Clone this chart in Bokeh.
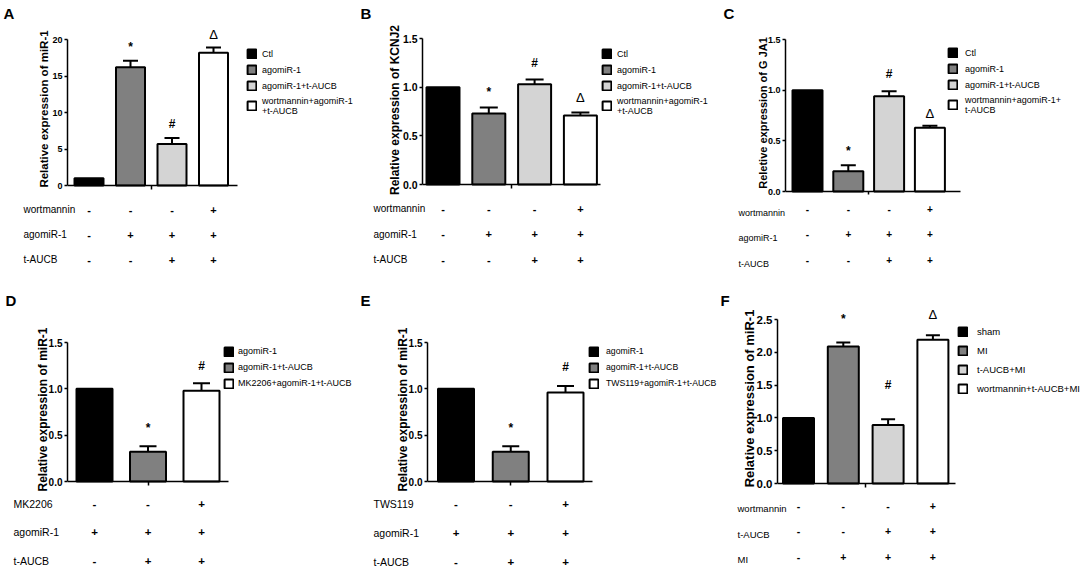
from bokeh.plotting import figure
from bokeh.models import (Range1d, FixedTicker, Legend, LegendItem, Whisker, TeeHead,
                          ColumnDataSource, NumeralTickFormatter, CustomJSTickFormatter)
from bokeh.layouts import row, column
from bokeh.embed import file_html
from bokeh.resources import INLINE
from bokeh.core.properties import value

# ---------------- data ----------------
A_groups = ["Ctl", "agomiR-1", "agomiR-1+t-AUCB", "wortmannin+agomiR-1\n+t-AUCB"]
A_values = [1.0, 16.2, 5.7, 18.2]
A_errors = [0.0, 0.9, 0.8, 0.7]
A_marks = ["", "*", "#", "Δ"]
A_rows = ["wortmannin", "agomiR-1", "t-AUCB"]
A_table = [["-", "-", "-", "+"], ["-", "+", "+", "+"], ["-", "-", "+", "+"]]
A_ticks = [0, 5, 10, 15, 20]
A_ylabel = "Relative expression of miR-1"

B_groups = ["Ctl", "agomiR-1", "agomiR-1+t-AUCB", "wortmannin+agomiR-1\n+t-AUCB"]
B_values = [1.0, 0.73, 1.03, 0.71]
B_errors = [0.0, 0.06, 0.05, 0.03]
B_marks = ["", "*", "#", "Δ"]
B_rows = ["wortmannin", "agomiR-1", "t-AUCB"]
B_table = [["-", "-", "-", "+"], ["-", "+", "+", "+"], ["-", "-", "+", "+"]]
B_ticks = [0, 0.5, 1.0, 1.5]
B_ylabel = "Relative expression of KCNJ2"

C_groups = ["Ctl", "agomiR-1", "agomiR-1+t-AUCB", "wortmannin+agomiR-1+\nt-AUCB"]
C_values = [1.0, 0.20, 0.94, 0.63]
C_errors = [0.0, 0.06, 0.05, 0.02]
C_marks = ["", "*", "#", "Δ"]
C_rows = ["wortmannin", "agomiR-1", "t-AUCB"]
C_table = [["-", "-", "-", "+"], ["-", "+", "+", "+"], ["-", "-", "+", "+"]]
C_ticks = [0, 0.5, 1.0, 1.5]
C_ylabel = "Reletive expression of G JA1"

D_groups = ["agomiR-1", "agomiR-1+t-AUCB", "MK2206+agomiR-1+t-AUCB"]
D_values = [1.0, 0.32, 0.98]
D_errors = [0.0, 0.06, 0.08]
D_marks = ["", "*", "#"]
D_rows = ["MK2206", "agomiR-1", "t-AUCB"]
D_table = [["-", "-", "+"], ["+", "+", "+"], ["-", "+", "+"]]
D_ticks = [0, 0.5, 1.0, 1.5]
D_ylabel = "Relative expression of miR-1"

E_groups = ["agomiR-1", "agomiR-1+t-AUCB", "TWS119+agomiR-1+t-AUCB"]
E_values = [1.0, 0.32, 0.96]
E_errors = [0.0, 0.06, 0.07]
E_marks = ["", "*", "#"]
E_rows = ["TWS119", "agomiR-1", "t-AUCB"]
E_table = [["-", "-", "+"], ["+", "+", "+"], ["-", "+", "+"]]
E_ticks = [0, 0.5, 1.0, 1.5]
E_ylabel = "Relative expression of miR-1"

F_groups = ["sham", "MI", "t-AUCB+MI", "wortmannin+t-AUCB+MI"]
F_values = [1.0, 2.09, 0.89, 2.19]
F_errors = [0.0, 0.06, 0.09, 0.07]
F_marks = ["", "*", "#", "Δ"]
F_rows = ["wortmannin", "t-AUCB", "MI"]
F_table = [["-", "-", "-", "+"], ["-", "-", "+", "+"], ["-", "+", "+", "+"]]
F_ticks = [0, 0.5, 1.0, 1.5, 2.0, 2.5]
F_ylabel = "Relative expression of miR-1"

# ---------------- styles / layout ----------------
COL4 = ["#000000", "#808080", "#d4d4d4", "#ffffff"]
COL3 = ["#000000", "#808080", "#ffffff"]
SANS = "Liberation Sans"

BASE_LEG = dict(leg_font=9, leg_lh=12, leg_spacing=4, leg_lineh=1.6)

GA = dict(BASE_LEG, ax=(67, 237, 39, 185), c0=88.5, pitch=41.5, bw=29, cap=15,
          hdr=20, mt=12, mb=5, pad_b=8, leg=(246, 43), leg_standoff=5,
          letter=(3, 4), r0=11, rp=25, lab_x=23, lab_dy=0, tab_font=10,
          ylab_font=11.5, ylab_standoff=-1, tick_font=9, fmt="0", moff=[0, 14, 14, 13])
GB = dict(BASE_LEG, ax=(62, 240, 38, 184), c0=82.5, pitch=45.8, bw=33, cap=18,
          hdr=20, mt=8, mb=5, pad_b=8, leg=(241, 43), leg_standoff=5,
          letter=(0, 4), r0=11, rp=25.5, lab_x=13, lab_dy=0, tab_font=10,
          ylab_font=12, ylab_standoff=-2, tick_font=10.5, fmt="0.0", moff=[0, 16, 16, 15])
GC = dict(BASE_LEG, ax=(65, 240, 39, 191), c0=87, pitch=40.8, bw=30, cap=15,
          hdr=20, mt=8, mb=3, pad_b=8, leg=(227, 42), leg_standoff=7,
          letter=(3, 4), r0=6, rp=25.5, lab_x=18, lab_dy=4, tab_font=9,
          ylab_font=11, ylab_standoff=-4, tick_font=9, fmt="0.0", moff=[0, 14, 17, 12])
GD = dict(BASE_LEG, ax=(67, 228, 52, 191), c0=94, pitch=53.5, bw=36, cap=17,
          hdr=18, mt=10, mb=5, pad_b=8, leg=(223, 55), leg_standoff=4,
          letter=(5, 1), r0=9, rp=28.5, lab_x=13, lab_dy=0, tab_font=10.5,
          ylab_font=12, ylab_standoff=-4, tick_font=10, fmt="0.0", moff=[0, 18, 17])
GE = dict(BASE_LEG, ax=(67, 232, 52, 191), c0=95.5, pitch=54.75, bw=36, cap=17,
          hdr=18, mt=10, mb=5, pad_b=8, leg=(228, 55), leg_standoff=7,
          letter=(0, 1), r0=9, rp=29, lab_x=13, lab_dy=0, tab_font=10.5,
          ylab_font=12, ylab_standoff=-4, tick_font=10, fmt="0.0", moff=[0, 18, 19])
GE["leg_font"] = 8.7
GF = dict(ax=(57, 235, 29, 193), c0=78, pitch=44.8, bw=31, cap=14,
          hdr=18, mt=11, mb=5, pad_b=8, leg=(237, 35), leg_standoff=9,
          leg_font=9.5, leg_lh=13, leg_spacing=6, leg_lineh=1.5,
          letter=(0, 1), r0=9, rp=25.5, lab_x=17, lab_dy=3, tab_font=9.5,
          ylab_font=13, ylab_standoff=-3, tick_font=11.5, fmt="0.0", moff=[0, 23, 34, 21])


def est_legend_h(groups, g):
    h = 0.0
    f = g["leg_font"]
    for name in groups:
        lines = name.count("\n") + 1
        h += max(g["leg_lh"], f * 1.15 + (lines - 1) * f * g["leg_lineh"])
    return h + g["leg_spacing"] * (len(groups) - 1)


def make_panel(letter, box_w, box_h, g, groups, vals, errs, marks, rows, table,
               ticks, ylabel, colors):
    n = len(groups)
    ax_l, ax_r, ax_t, ax_b = g["ax"]
    pitch = g["pitch"]
    hdr, mt, mb, pad_b = g["hdr"], g["mt"], g["mb"], g["pad_b"]

    # ---- header with panel letter ----
    h = figure(width=box_w, height=hdr, x_range=Range1d(0, box_w), y_range=Range1d(hdr, 0),
               output_backend="svg", toolbar_location=None, min_border=0,
               x_axis_location=None, y_axis_location=None, frame_align=False)
    h.grid.visible = False
    h.outline_line_color = None
    h.text(x=[g["letter"][0]], y=[g["letter"][1]], text=[letter], text_align="left",
           text_baseline="top", text_font=value(SANS), text_font_size="15px",
           text_font_style="bold", text_color="black")

    # ---- chart ----
    ft = ax_t - mt
    fb = ax_b + mb
    chart_h = fb + pad_b - hdr
    frame_w = box_w - ax_l
    x0 = -(g["c0"] - ax_l) / pitch
    x1 = x0 + frame_w / pitch
    ytop = ticks[-1]
    s = ytop / (ax_b - ax_t)
    p = figure(width=box_w, height=chart_h, x_range=Range1d(x0, x1),
               y_range=Range1d(-mb * s, ytop + mt * s), output_backend="svg",
               toolbar_location=None, min_border_left=ax_l, min_border_right=0,
               min_border_top=ft - hdr, min_border_bottom=pad_b, frame_align=False)
    p.xgrid.visible = False
    p.ygrid.visible = False
    p.outline_line_color = None

    xa = p.xaxis[0]
    xa.fixed_location = 0
    xa.ticker = FixedTicker(ticks=[(n - 1) / 2])
    xa.bounds = (x0, (ax_r - g["c0"]) / pitch)
    xa.formatter = CustomJSTickFormatter(code="return ''")
    xa.major_label_text_font_size = "2px"
    xa.major_label_standoff = 0
    xa.major_tick_out = 4
    xa.major_tick_in = 0
    xa.minor_tick_line_color = None
    xa.axis_line_width = 1.5
    xa.major_tick_line_width = 1.5
    xa.axis_line_color = "black"

    ya = p.yaxis[0]
    ya.ticker = FixedTicker(ticks=ticks)
    ya.bounds = (0, ytop)
    ya.formatter = NumeralTickFormatter(format=g["fmt"])
    ya.major_tick_out = 3
    ya.major_tick_in = 0
    ya.minor_tick_line_color = None
    ya.axis_line_width = 1.5
    ya.major_tick_line_width = 1.5
    ya.axis_line_color = "black"
    ya.major_label_standoff = 2
    ya.major_label_text_font = SANS
    ya.major_label_text_font_style = "bold"
    ya.major_label_text_font_size = f"{g['tick_font']}px"
    ya.major_label_text_color = "black"
    ya.axis_label = ylabel
    ya.axis_label_text_font = SANS
    ya.axis_label_text_font_style = "bold"
    ya.axis_label_text_font_size = f"{g['ylab_font']}px"
    ya.axis_label_text_color = "black"
    ya.axis_label_standoff = g["ylab_standoff"]

    ups = [v + e for v, e in zip(vals, errs)]
    src = ColumnDataSource(dict(x=list(range(n)), top=vals, up=ups, color=colors,
                                mark=marks, moff=[-m for m in g["moff"]],
                                mstyle=["normal" if m == "Δ" else "bold" for m in marks],
                                msize=["13px" if m == "Δ" else "12px" for m in marks]))
    bars = p.vbar(x="x", top="top", bottom=0, width=g["bw"] / pitch, source=src,
                  fill_color="color", line_color="black", line_width=2)

    keep = [i for i in range(n) if errs[i] > 0]
    esrc = ColumnDataSource(dict(x=keep, lo=[vals[i] for i in keep],
                                 hi=[ups[i] for i in keep]))
    p.add_layout(Whisker(source=esrc, base="x", lower="lo", upper="hi", dimension="height",
                         line_width=2, line_color="black", lower_head=None,
                         upper_head=TeeHead(size=g["cap"], line_width=2,
                                            line_color="black")))

    p.text(x="x", y="up", text="mark", y_offset="moff", source=src,
           text_align="center", text_baseline="middle", text_font=value(SANS),
           text_font_size="msize", text_font_style="mstyle", text_color="black")

    items = [LegendItem(label=groups[i], renderers=[bars], index=i) for i in range(n)]
    lh = est_legend_h(groups, g)
    lx, ltop = g["leg"]
    leg = Legend(items=items, location=(lx - ax_l, fb - ltop - lh),
                 glyph_width=11, glyph_height=11, label_height=g["leg_lh"],
                 label_standoff=g["leg_standoff"], spacing=g["leg_spacing"],
                 padding=0, margin=0, border_line_color=None,
                 background_fill_alpha=0, label_text_font=SANS,
                 label_text_font_size=f"{g['leg_font']}px",
                 label_text_line_height=g["leg_lineh"], label_text_color="black")
    p.add_layout(leg)

    # ---- condition table ----
    t_h = box_h - hdr - chart_h
    r0, rp = g["r0"], g["rp"]
    xt0 = x0 - ax_l / pitch
    q = figure(width=box_w, height=t_h, x_range=Range1d(xt0, x1),
               y_range=Range1d((t_h - r0) / rp, -r0 / rp), output_backend="svg",
               toolbar_location=None, min_border=0, x_axis_location=None,
               y_axis_location=None, frame_align=False)
    q.grid.visible = False
    q.outline_line_color = None
    tx, ty, tt = [], [], []
    for ri, rvals in enumerate(table):
        for ci, sgn in enumerate(rvals):
            tx.append(ci)
            ty.append(ri)
            tt.append(sgn)
    q.text(x=tx, y=ty, text=tt, text_align="center", text_baseline="middle",
           text_font=value(SANS), text_font_size=f"{g['tab_font'] + 1}px",
           text_font_style="bold", text_color="black")
    lab_x = xt0 + g["lab_x"] / pitch
    q.text(x=[lab_x] * len(rows), y=[i + g["lab_dy"] / rp for i in range(len(rows))],
           text=rows, text_align="left", text_baseline="middle",
           text_font=value(SANS), text_font_size=f"{g['tab_font']}px",
           text_color="black")
    return column(h, p, q, spacing=0)


pA = make_panel("A", 360, 290, GA, A_groups, A_values, A_errors, A_marks, A_rows, A_table,
                A_ticks, A_ylabel, COL4)
pB = make_panel("B", 360, 290, GB, B_groups, B_values, B_errors, B_marks, B_rows, B_table,
                B_ticks, B_ylabel, COL4)
pC = make_panel("C", 364, 290, GC, C_groups, C_values, C_errors, C_marks, C_rows, C_table,
                C_ticks, C_ylabel, COL4)
pD = make_panel("D", 360, 279, GD, D_groups, D_values, D_errors, D_marks, D_rows, D_table,
                D_ticks, D_ylabel, COL3)
pE = make_panel("E", 360, 279, GE, E_groups, E_values, E_errors, E_marks, E_rows, E_table,
                E_ticks, E_ylabel, COL3)
pF = make_panel("F", 364, 279, GF, F_groups, F_values, F_errors, F_marks, F_rows, F_table,
                F_ticks, F_ylabel, COL4)

page = column(row(pA, pB, pC, spacing=0), row(pD, pE, pF, spacing=0), spacing=0)
open("out.html", "w").write(file_html(page, INLINE))
